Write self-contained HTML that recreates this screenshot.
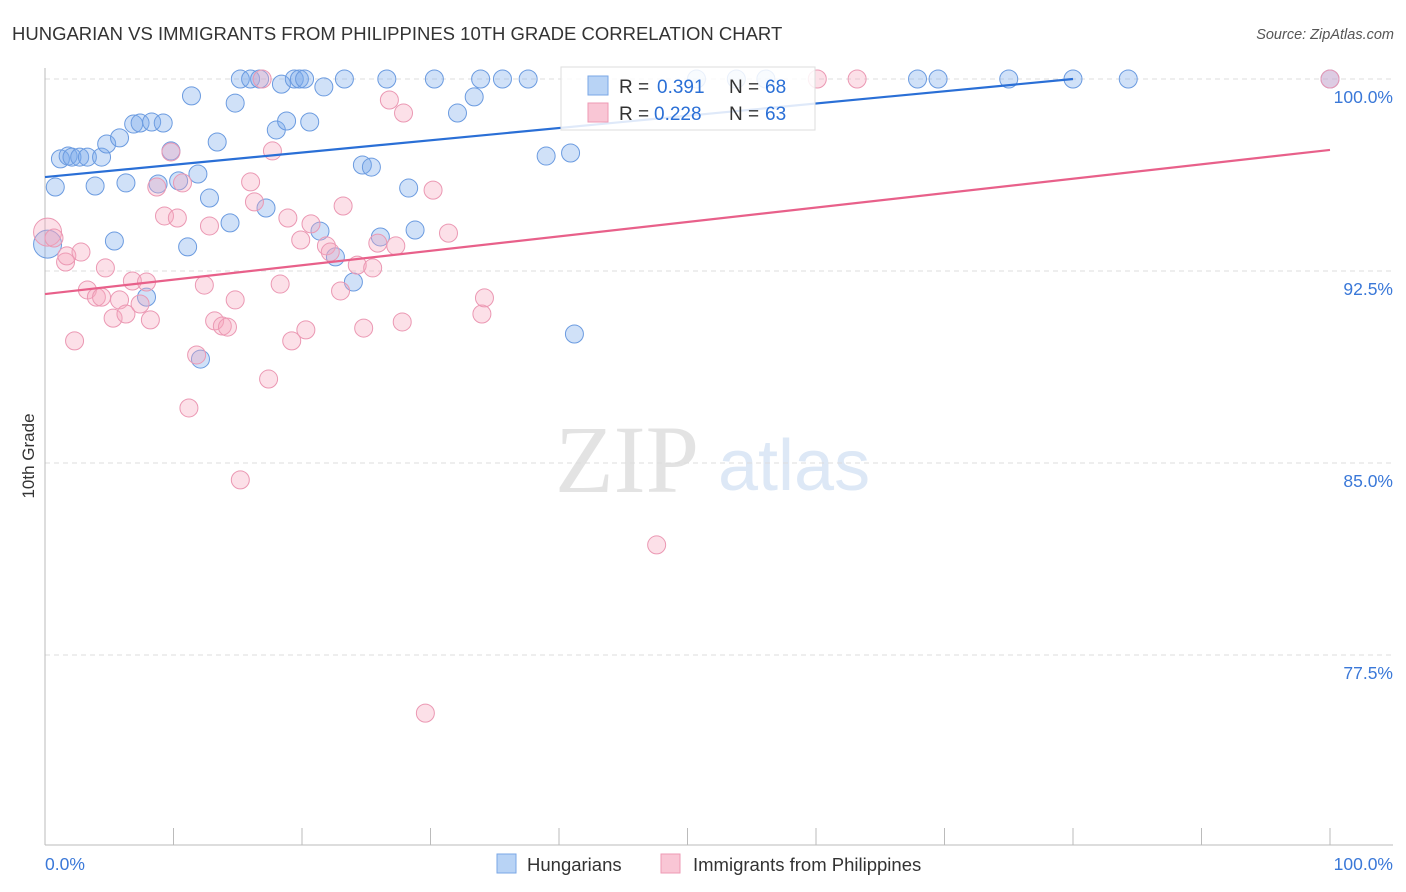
<!DOCTYPE html>
<html><head><meta charset="utf-8"><style>
body{margin:0;background:#fff;font-family:"Liberation Sans",sans-serif}
svg{display:block}
</style></head><body>
<svg id="chart" width="1406" height="892" viewBox="0 0 1406 892" xmlns="http://www.w3.org/2000/svg">
<text x="12" y="40" font-size="18.5" fill="#333">HUNGARIAN VS IMMIGRANTS FROM PHILIPPINES 10TH GRADE CORRELATION CHART</text>
<text x="1394" y="39" font-size="14.5" fill="#555" font-style="italic" text-anchor="end">Source: ZipAtlas.com</text>
<g>
<text x="555" y="492" font-family="Liberation Serif,serif" font-size="96" fill="#e3e3e3">ZIP</text>
<text x="718" y="490" font-size="72" fill="#dde8f6">atlas</text>
</g>
<g id="grid"></g>
<g id="axes"></g>
<g id="marks"></g>
<g>
<rect x="561" y="67" width="254" height="63" fill="#fff" fill-opacity="0.85" stroke="#ddd"/>
<rect x="588" y="76" width="20" height="19" fill="#b8d3f5" stroke="#7aa7e6"/>
<rect x="588" y="103" width="20" height="19" fill="#f9c6d5" stroke="#ee9ab4"/>
<text x="619" y="93" font-size="19" fill="#333">R = <tspan x="657" fill="#2a6fd6">0.391</tspan><tspan x="729" fill="#333">N = </tspan><tspan x="765" fill="#2a6fd6">68</tspan></text>
<text x="619" y="120" font-size="19" fill="#333">R = <tspan x="654" fill="#2a6fd6">0.228</tspan><tspan x="729" fill="#333">N = </tspan><tspan x="765" fill="#2a6fd6">63</tspan></text>
</g>
<g>
<rect x="497" y="854" width="19" height="19" fill="#b8d3f5" stroke="#7aa7e6"/>
<text x="527" y="871" font-size="18.5" fill="#333">Hungarians</text>
<rect x="661" y="854" width="19" height="19" fill="#f9c6d5" stroke="#ee9ab4"/>
<text x="693" y="871" font-size="18.5" fill="#333">Immigrants from Philippines</text>
</g>
<text transform="translate(34,456) rotate(-90)" font-size="17" fill="#333" text-anchor="middle">10th Grade</text>
</svg>
<script>
const yTicks=[100,92.5,85,77.5];
const yTickLabels=["100.0%","92.5%","85.0%","77.5%"];
const hungX=[0.8,1.2,1.8,2.1,2.7,3.3,4.4,3.9,4.8,5.4,5.8,6.3,6.9,7.4,8.3,9.2,8.8,9.8,10.4,11.1,11.4,11.9,12.8,13.4,14.4,14.8,15.2,16.0,16.7,17.2,18.0,18.4,18.8,19.4,19.8,20.2,20.6,21.4,21.7,22.6,23.3,24.0,24.7,25.4,26.1,26.6,28.3,28.8,30.3,32.1,33.4,33.9,35.6,37.6,39.0,40.9,41.2,7.9,12.1,0.2,50.7,53.8,56.1,67.9,69.5,75.0,80.0,84.3,100];
const hungY=[95.78,96.88,96.99,96.95,96.95,96.95,96.95,95.82,97.46,93.67,97.70,95.94,98.24,98.28,98.32,98.28,95.90,97.19,96.02,93.44,99.34,96.29,95.35,97.54,94.38,99.06,100,100,100,94.96,98.01,99.80,98.36,100,100,100,98.32,94.06,99.69,93.05,100,92.07,96.64,96.56,93.83,100,95.74,94.10,100,98.67,99.30,100,100,100,96.99,97.11,90.04,91.48,89.06,93.55,100,100,100,100,100,100,100,100,100];
const philX=[0.2,0.7,1.6,1.7,2.3,2.8,3.3,4.0,4.4,4.7,5.3,5.8,6.3,6.8,7.4,7.9,8.2,8.7,9.3,9.8,10.3,10.7,11.2,11.8,12.4,12.8,13.2,13.8,14.2,14.8,15.2,16.0,16.3,16.9,17.4,17.7,18.3,18.9,19.2,19.9,20.3,20.7,21.9,22.2,23.0,23.2,24.3,24.8,25.5,25.9,26.8,27.3,27.8,27.9,29.6,30.2,31.4,34.0,34.2,47.6,60.1,63.2,100];
const philY=[94.02,93.79,92.85,93.09,89.77,93.24,91.76,91.48,91.48,92.62,90.66,91.37,90.82,92.11,91.21,92.07,90.59,95.78,94.65,97.15,94.57,95.94,87.15,89.22,91.95,94.26,90.55,90.35,90.31,91.37,84.34,95.98,95.20,100,88.28,97.19,91.99,94.57,89.77,93.71,90.20,94.34,93.48,93.24,91.72,95.04,92.73,90.27,92.62,93.59,99.18,93.48,90.51,98.67,75.23,95.66,93.98,90.82,91.45,81.80,100,100,100];
const hungTrend=[[0,96.17],[80,100]];
const philTrend=[[0,91.6],[100,97.23]];
const NS="http://www.w3.org/2000/svg";
const xs=v=>45+v*12.85;
const ys=v=>79+(100-v)*25.6;
function mk(tag,attrs,parent){const e=document.createElementNS(NS,tag);for(const k in attrs)e.setAttribute(k,attrs[k]);parent.appendChild(e);return e;}
const grid=document.getElementById('grid'),axes=document.getElementById('axes'),marks=document.getElementById('marks');
yTicks.forEach((t,i)=>{
 const l=mk('line',{x1:45,x2:1393,y1:ys(t),y2:ys(t),stroke:'#ddd','stroke-dasharray':'5,4'},grid);
 
 
 const tx=mk('text',{x:1393,y:ys(t)+24,'font-size':17.5,fill:'#3a78d8','text-anchor':'end'},axes);
 tx.textContent=yTickLabels[i];
 
 
});
let a=mk('line',{x1:45,x2:45,y1:68,y2:845,stroke:'#bbb'},axes);


a=mk('line',{x1:45,x2:1393,y1:845,y2:845,stroke:'#bbb'},axes);


for(let v=0;v<=100;v+=10){
 const t=mk('line',{x1:xs(v),x2:xs(v),y1:828,y2:845,stroke:'#bbb'},axes);
 
 
}
let t0=mk('text',{x:45,y:870,'font-size':17.5,fill:'#3a78d8'},axes);t0.textContent='0.0%';


t0=mk('text',{x:1393,y:870,'font-size':17.5,fill:'#3a78d8','text-anchor':'end'},axes);t0.textContent='100.0%';


function pts(X,Y,fill,stroke,name,bigIdx){
 X.forEach((x,i)=>{
  const c=mk('circle',{cx:xs(x),cy:ys(Y[i]),r:i===bigIdx?14:9,fill:fill,stroke:stroke,'stroke-width':1},marks);
  
  
 });
}
pts(hungX,hungY,'rgba(120,170,235,0.35)','#6b9be0','hungarian-point',59);
pts(philX,philY,'rgba(245,165,190,0.35)','#eb98b3','philippines-point',0);
let ln=mk('line',{x1:xs(hungTrend[0][0]),y1:ys(hungTrend[0][1]),x2:xs(hungTrend[1][0]),y2:ys(hungTrend[1][1]),stroke:'#2a6fd6','stroke-width':2.2},marks);


ln=mk('line',{x1:xs(philTrend[0][0]),y1:ys(philTrend[0][1]),x2:xs(philTrend[1][0]),y2:ys(philTrend[1][1]),stroke:'#e8608a','stroke-width':2.2},marks);


</script>
</body></html>
